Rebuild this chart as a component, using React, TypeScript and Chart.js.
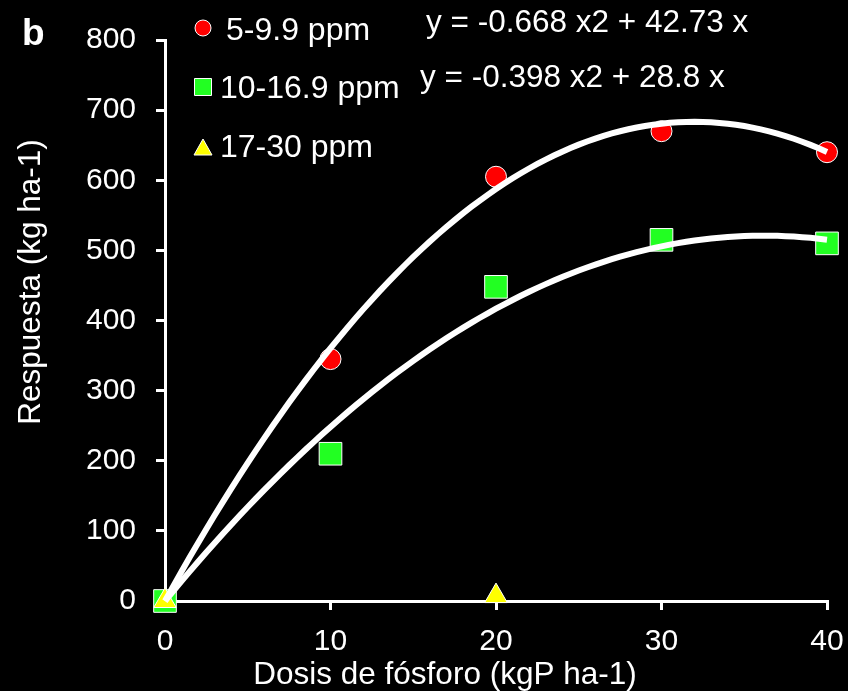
import React, { useEffect, useRef } from "react";
import { Chart, registerables } from "chart.js";

Chart.register(...registerables);

const doses = [0, 10, 20, 30, 40];
const low = [0, 345, 605, 670, 640];
const mid = [0, 210, 448, 515, 510];
const highX = [0, 20];
const high = [0, 7];
const xTicks = [0, 10, 20, 30, 40];
const yTicks = [0, 100, 200, 300, 400, 500, 600, 700, 800];
const fitLow = [-0.668, 42.73];
const fitMid = [-0.398, 28.8];
const seriesNames = ["5-9.9 ppm", "10-16.9 ppm", "17-30 ppm"];
const equations = ["y = -0.668 x2 + 42.73 x", "y = -0.398 x2 + 28.8 x"];
const xTitle = "Dosis de fósforo (kgP ha-1)";
const yTitle = "Respuesta (kg ha-1)";
const panelLabel = "b";

const FONT = "'Liberation Sans', Arial, sans-serif";
const RED = "#ff0000";
const GREEN = "#22ff22";
const YELLOW = "#ffff00";

function fitCurve(coef: number[]) {
  const pts: { x: number; y: number }[] = [];
  for (let i = 0; i <= 80; i++) {
    const x = i / 2;
    pts.push({ x, y: coef[0] * x * x + coef[1] * x });
  }
  return pts;
}

const overlay = {
  id: "overlay",
  beforeDraw(chart: any) {
    const ctx = chart.ctx;
    ctx.save();
    ctx.fillStyle = "#000";
    ctx.fillRect(0, 0, chart.width, chart.height);
    ctx.restore();
  },
  afterDraw(chart: any) {
    const ctx = chart.ctx;
    ctx.save();
    ctx.fillStyle = "#fff";
    ctx.textBaseline = "alphabetic";
    // panel label
    ctx.font = `bold 37px ${FONT}`;
    ctx.textAlign = "left";
    ctx.fillText(panelLabel, 22, 45);
    // equations
    ctx.font = `31.5px ${FONT}`;
    ctx.fillText(equations[0], 426, 32);
    ctx.fillText(equations[1], 420, 87);
    // legend
    ctx.font = `32px ${FONT}`;
    ctx.fillText(seriesNames[0], 226, 40);
    ctx.fillText(seriesNames[1], 220, 98);
    ctx.fillText(seriesNames[2], 220, 157);
    ctx.strokeStyle = "#fff";
    ctx.lineWidth = 1;
    // circle
    ctx.beginPath();
    ctx.arc(203, 28, 8, 0, Math.PI * 2);
    ctx.fillStyle = RED;
    ctx.fill();
    ctx.stroke();
    // square
    ctx.beginPath();
    ctx.rect(203 - 8.5, 87 - 8.5, 17, 17);
    ctx.fillStyle = GREEN;
    ctx.fill();
    ctx.stroke();
    // triangle
    ctx.beginPath();
    ctx.moveTo(203, 139);
    ctx.lineTo(212, 155);
    ctx.lineTo(194, 155);
    ctx.closePath();
    ctx.fillStyle = YELLOW;
    ctx.fill();
    ctx.stroke();
    // axis titles
    ctx.fillStyle = "#fff";
    ctx.font = `31.5px ${FONT}`;
    ctx.textAlign = "center";
    ctx.fillText(xTitle, 445, 684);
    ctx.translate(40, 282);
    ctx.rotate(-Math.PI / 2);
    ctx.fillText(yTitle, 0, 0);
    ctx.restore();
  },
};

export default function App() {
  const ref = useRef<HTMLCanvasElement | null>(null);
  useEffect(() => {
    if (!ref.current) return;
    document.body.style.background = "#000";
    const chart = new Chart(ref.current, {
      type: "scatter",
      data: {
        datasets: [
          {
            label: "fit1",
            data: fitCurve(fitLow),
            showLine: true,
            borderColor: "#fff",
            borderWidth: 6,
            pointRadius: 0,
            order: 1,
            clip: false,
          } as any,
          {
            label: "fit2",
            data: fitCurve(fitMid),
            showLine: true,
            borderColor: "#fff",
            borderWidth: 6,
            pointRadius: 0,
            order: 1,
            clip: false,
          } as any,
          {
            label: seriesNames[2],
            data: highX.map((x, i) => ({ x, y: high[i] })),
            pointStyle: "triangle",
            pointRadius: 13,
            backgroundColor: YELLOW,
            borderColor: "#fff",
            borderWidth: 1,
            order: 2,
            clip: false,
          } as any,
          {
            label: seriesNames[1],
            data: doses.map((x, i) => ({ x, y: mid[i] })),
            pointStyle: "rect",
            pointRadius: 16,
            backgroundColor: GREEN,
            borderColor: "#fff",
            borderWidth: 1,
            order: 3,
            clip: false,
          } as any,
          {
            label: seriesNames[0],
            data: doses.map((x, i) => ({ x, y: low[i] })),
            pointStyle: "circle",
            pointRadius: 10.5,
            backgroundColor: RED,
            borderColor: "#fff",
            borderWidth: 1,
            order: 4,
            clip: false,
          } as any,
        ],
      },
      options: {
        responsive: false,
        animation: false,
        layout: { padding: { left: 0, top: 40, right: 21, bottom: 0 } },
        plugins: { legend: { display: false }, tooltip: { enabled: false } },
        scales: {
          x: {
            type: "linear",
            min: 0,
            max: 40,
            afterFit(s: any) {
              s.height = 90;
              s.paddingLeft = 0;
              s.paddingRight = 0;
            },
            afterBuildTicks(s: any) {
              s.ticks = xTicks.map((v) => ({ value: v }));
            },
            grid: { drawOnChartArea: false, drawTicks: true, tickLength: 9, color: "#fff", lineWidth: 3 },
            border: { color: "#fff", width: 3 },
            ticks: { color: "#fff", font: { family: FONT, size: 30 }, padding: 14, maxRotation: 0 },
          },
          y: {
            type: "linear",
            min: 0,
            max: 800,
            afterFit(s: any) {
              s.width = 165;
              s.paddingTop = 0;
              s.paddingBottom = 0;
            },
            afterBuildTicks(s: any) {
              s.ticks = yTicks.map((v) => ({ value: v }));
            },
            grid: { drawOnChartArea: false, drawTicks: true, tickLength: 9, color: "#fff", lineWidth: 3 },
            border: { color: "#fff", width: 3 },
            ticks: { color: "#fff", font: { family: FONT, size: 30 }, padding: 20 },
          },
        },
      },
      plugins: [overlay],
    });
    return () => chart.destroy();
  }, []);
  return (
    <div style={{ position: "absolute", left: 0, top: 0, width: 848, height: 691, background: "#000" }}>
      <canvas ref={ref} width={848} height={691} style={{ width: 848, height: 691, display: "block" }} />
    </div>
  );
}
